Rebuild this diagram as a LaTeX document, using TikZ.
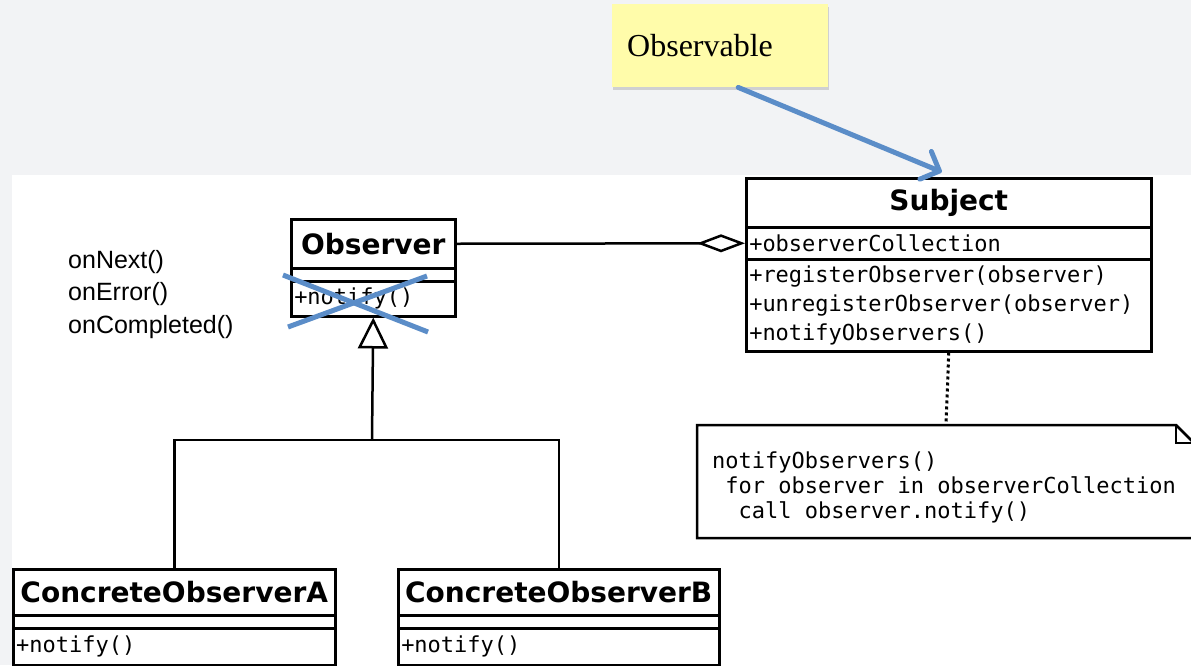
\documentclass[tikz,border=0pt]{standalone}
\usepackage{fontspec}
\usepackage{tikz}
\usetikzlibrary{arrows.meta,shadows}
\newfontfamily\umlsans{DejaVu Sans}
\newfontfamily\umlmono{DejaVu Sans Mono}
\newfontfamily\handsans{Liberation Sans}
\newfontfamily\slideserif{Liberation Serif}
\definecolor{paper}{RGB}{242,243,245}
\definecolor{keyblue}{RGB}{91,141,200}
\definecolor{sticky}{RGB}{255,252,170}

\tikzset{
 umlhead/.style={draw,line width=2.5pt,anchor=north west,inner sep=0pt,
   font=\umlsans\bfseries\fontsize{28}{30}\selectfont},
 umlgap/.style={draw,line width=2.5pt,anchor=north west,inner sep=0pt},
 umlpart/.style={draw,line width=2.5pt,anchor=north west,inner xsep=3pt,inner ysep=0pt,
   align=left,font=\umlmono\fontsize{22}{29}\selectfont},
 umlline/.style={line width=2.5pt},
 keystroke/.style={keyblue,line width=5pt}
}

\begin{document}
\begin{tikzpicture}[x=1pt,y=-1pt]
 \clip (0,0) rectangle (1191,665);
 \fill[paper] (0,0) rectangle (1191,665);
 \fill[white] (12,175) rectangle (1191,665);

 % callout
 \node[fill=sticky,drop shadow={opacity=0.3,shadow xshift=1pt,shadow yshift=-3pt},
   anchor=north west,minimum height=83pt,text width=186pt,inner xsep=15pt,align=left,
   font=\slideserif\fontsize{32}{36}\selectfont] (observable) at (612,4) {Observable};

 % observer
 \node[umlhead,minimum width=164pt,minimum height=49pt] (obs) at (290,218) {Observer};
 \node[umlgap,minimum width=164pt,minimum height=13pt] (obsattr) at (290,267) {};
 \node[umlpart,text width=158pt,minimum height=35pt] (obsops) at (290,280) {+notify()};

 % subject
 \node[umlhead,minimum width=405pt,minimum height=49pt] (subj) at (745,177) {Subject};
 \node[umlpart,text width=399pt,minimum height=32pt] (subjattr) at (745,226) {+observerCollection};
 \node[umlpart,text width=399pt,minimum height=92pt] (subjops) at (745,258)
   {+registerObserver(observer)\\+unregisterObserver(observer)\\+notifyObservers()};

 % concrete observers
 \node[umlhead,minimum width=322pt,minimum height=46pt] (coa) at (12,568) {ConcreteObserverA};
 \node[umlgap,minimum width=322pt,minimum height=13pt] (coaattr) at (12,614) {};
 \node[umlpart,text width=316pt,minimum height=37pt] (coaops) at (12,627) {+notify()};
 \node[umlhead,minimum width=321pt,minimum height=46pt] (cob) at (397,568) {ConcreteObserverB};
 \node[umlgap,minimum width=321pt,minimum height=13pt] (cobattr) at (397,614) {};
 \node[umlpart,text width=315pt,minimum height=37pt] (cobops) at (397,627) {+notify()};

 % note
 \draw[umlline,fill=white] (697,425) -- (1176,425) -- (1194,443) -- (1194,538) -- (697,538) -- cycle;
 \draw[line width=1.5pt] (1176,425) |- (1194,443);
 \coordinate (notetop) at (946,425);
 \node[anchor=west,inner sep=0pt,align=left,font=\umlmono\fontsize{22}{25}\selectfont] (note) at (712,487)
   {notifyObservers()\\\ for observer in observerCollection\\\ \ call observer.notify()};

 % rx methods
 \node[anchor=north west,inner sep=0pt,align=left,font=\handsans\fontsize{25}{32.5}\selectfont]
   (rxops) at (68,250) {onNext()\\onError()\\onCompleted()};

 % connectors
 \draw[umlline,-{Diamond[open,length=48pt,width=18pt]}] (obs.east) -- (subjattr.west);
 \coordinate (genfork) at (372,440);
 \draw[umlline] (coa.north) |- (genfork) -| (cob.north);
 \draw[umlline,-{Triangle[open,length=31pt,width=30pt]}] (genfork) -- (obsops.south);
 \draw[line width=3pt,dash pattern=on 3pt off 3pt] (subjops.south) -- (notetop);

 % crossed out
 \draw[keystroke] (283,275) -- (428,332);
 \draw[keystroke] (288,327) -- (427,276);

 \draw[keystroke,line cap=round,-{Straight Barb[length=15pt,width=30pt,round]}] ([xshift=18pt]observable.south)
   -- ([xshift=-7pt,yshift=5pt]subj.north);
\end{tikzpicture}
\end{document}
